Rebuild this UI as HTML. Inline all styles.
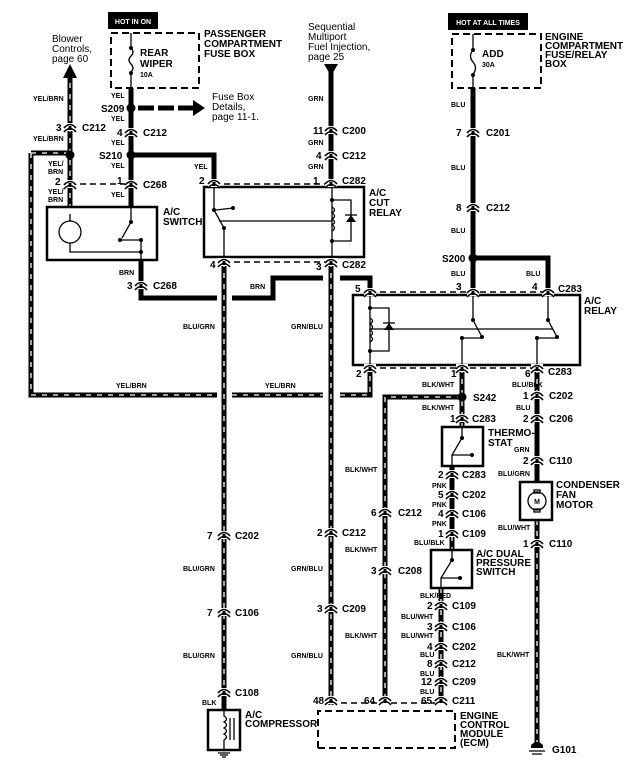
<!DOCTYPE html>
<html><head><meta charset="utf-8"><style>
html,body{margin:0;padding:0;background:#fff;}
svg{display:block;font-family:"Liberation Sans",Arial,sans-serif;font-weight:bold;}
.w{fill:none;stroke:#000;stroke-width:5;stroke-linejoin:miter;}
.s{fill:none;stroke:#fff;stroke-width:1.3;stroke-dasharray:5 6;}
.d{fill:none;stroke:#000;stroke-width:1.5;stroke-dasharray:6 4;}
.t{fill:none;stroke:#000;stroke-width:1.3;}
.b{fill:#fff;stroke:#000;stroke-width:2.5;}
.db{fill:none;stroke:#000;stroke-width:2;stroke-dasharray:7 4;}
.sm{font-size:7px;}
.md{font-size:10px;}
.lg{font-size:10px;}
.n{font-size:10px;font-weight:normal;}
</style></head><body>
<svg width="633" height="768" viewBox="0 0 633 768" xmlns="http://www.w3.org/2000/svg">
<defs>
<g id="c"><rect x="-6" y="-4" width="12" height="8" fill="#fff"/><path d="M-6 1 Q0 -6 6 1 M-6 5 Q0 -2 6 5" fill="none" stroke="#000" stroke-width="1.6"/><rect x="-1.5" y="-1" width="3" height="4" fill="#000"/></g>
</defs>

<path class="d" d="M70 184H131 M214 184H331 M224 262H331 M370 292H548 M370 368H537 M331 703H441"/>

<path class="w" d="M70 72V207"/>
<path class="s" d="M70 72V207"/>
<polygon points="63,78 77,78 70,64"/>
<path class="w" d="M131 88V207"/>
<path class="w" d="M138 108H195" stroke-dasharray="16 4"/>
<polygon points="193,100 205,108 193,116"/>
<path class="w" d="M131 155H214V183"/>
<path class="w" d="M31 153H70 M31 153V395H217 M232 395H323 M340 395H370V372"/>
<path class="s" d="M31 153H70 M31 153V395H217 M232 395H323 M340 395H370V372"/>
<path class="w" d="M141 260V298H217 M232 298H273V278H323 M340 278H370V290"/>
<path class="w" d="M224 262V697"/>
<path class="s" d="M224 262V690"/>
<path class="w" d="M224 690V710"/>
<path class="w" d="M331 72V183"/>
<polygon points="324,64 338,64 331,76"/>
<path class="w" d="M331 262V705"/>
<path class="s" d="M331 262V705"/>
<path class="w" d="M473 88V292 M473 258H548V290"/>
<path class="w" d="M462 368V427 M462 397H385V703"/>
<path class="s" d="M462 368V427 M462 397H385V703"/>
<path class="w" d="M452 466V550"/>
<path class="s" d="M452 536V550"/>
<path class="w" d="M441 588V703"/>
<path class="s" d="M441 588V703"/>
<path class="w" d="M537 368V482 M537 520V745"/>
<path class="s" d="M537 368V392 M537 520V745"/>

<rect x="108" y="12" width="50" height="17" fill="#000"/>
<text x="133" y="24" fill="#fff" font-size="7" text-anchor="middle">HOT IN ON</text>
<rect x="111" y="33" width="88" height="55" class="db" fill="#fff"/>
<path class="t" d="M131 33V48 M131 48q4 4 0 8q-4 4 0 8q4 4 0 8V88"/>
<circle cx="131" cy="48" r="2"/><circle cx="131" cy="73" r="2"/>
<text x="140" y="56" class="lg">REAR</text><text x="140" y="67" class="lg">WIPER</text><text x="140" y="77" class="sm">10A</text>
<text x="204" y="37" class="lg">PASSENGER</text><text x="204" y="47" class="lg">COMPARTMENT</text><text x="204" y="57" class="lg">FUSE BOX</text>

<rect x="448" y="13" width="80" height="17" fill="#000"/>
<text x="488" y="25" fill="#fff" font-size="7" text-anchor="middle">HOT AT ALL TIMES</text>
<rect x="452" y="34" width="89" height="54" class="db" fill="#fff"/>
<path class="t" d="M473 34V50 q-5 6 0 12 q5 6 0 12V88"/>
<circle cx="473" cy="50" r="2"/><circle cx="473" cy="75" r="2"/>
<text x="482" y="57" class="lg">ADD</text><text x="482" y="67" class="sm">30A</text>
<text x="545" y="40" class="lg">ENGINE</text><text x="545" y="49" class="lg">COMPARTMENT</text><text x="545" y="58" class="lg">FUSE/RELAY</text><text x="545" y="67" class="lg">BOX</text>

<text x="52" y="42" class="n">Blower</text><text x="52" y="52" class="n">Controls,</text><text x="52" y="62" class="n">page 60</text>
<text x="212" y="100" class="n">Fuse Box</text><text x="212" y="110" class="n">Details,</text><text x="212" y="120" class="n">page 11-1.</text>
<text x="308" y="30" class="n">Sequential</text><text x="308" y="40" class="n">Multiport</text><text x="308" y="50" class="n">Fuel Injection,</text><text x="308" y="60" class="n">page 25</text>

<rect x="47" y="207" width="110" height="53" class="b"/>
<circle cx="70" cy="232" r="11" class="t" stroke-width="2"/>
<path class="t" d="M70 214V221 M70 243V252H141 M131 207V222L122 238 M120 240H141V260"/>
<circle cx="131" cy="222" r="2"/><circle cx="120" cy="240" r="2"/><circle cx="141" cy="240" r="2"/><circle cx="141" cy="252" r="2"/>
<text x="163" y="215" class="lg">A/C</text><text x="163" y="225" class="lg">SWITCH</text>

<rect x="204" y="187" width="160" height="70" class="b"/>
<path class="t" d="M214 187V210L224 228V257 M216 210L233 208 M219 221H332 M332 187V257 M332 200H351V241H332"/>
<path class="t" d="M332 207q5 3 0 6q5 3 0 6q5 3 0 6q5 3 0 6"/>
<polygon points="346,222 356,222 351,215"/><path class="t" d="M345 215H357"/>
<circle cx="214" cy="210" r="2"/><circle cx="233" cy="208" r="2"/><circle cx="224" cy="228" r="2"/><circle cx="332" cy="200" r="2"/><circle cx="332" cy="241" r="2"/>
<text x="369" y="196" class="lg">A/C</text><text x="369" y="206" class="lg">CUT</text><text x="369" y="216" class="lg">RELAY</text>

<rect x="353" y="295" width="227" height="70" class="b"/>
<path class="t" d="M370 295V365 M370 308H389V351H370 M370 318q5 3 0 6q5 3 0 6q5 3 0 6q5 3 0 6 M370 329H553 M473 295V320L482 337 M462 338V365 M462 338H482 M548 295V320L557 337 M537 338V365 M537 338H557"/>
<polygon points="384,330 394,330 389,323"/><path class="t" d="M383 323H395"/>
<circle cx="370" cy="308" r="2"/><circle cx="370" cy="351" r="2"/><circle cx="473" cy="320" r="2"/><circle cx="482" cy="337" r="2"/><circle cx="462" cy="338" r="2"/><circle cx="548" cy="320" r="2"/><circle cx="557" cy="337" r="2"/><circle cx="537" cy="338" r="2"/>
<text x="584" y="304" class="lg">A/C</text><text x="584" y="314" class="lg">RELAY</text>

<rect x="442" y="427" width="41" height="39" class="b"/>
<path class="t" d="M462 427V438L452 455V466 M452 455H472"/>
<circle cx="462" cy="438" r="2"/><circle cx="472" cy="455" r="2"/>
<text x="488" y="436" class="lg">THERMO-</text><text x="488" y="446" class="lg">STAT</text>

<rect x="431" y="550" width="41" height="38" class="b"/>
<path class="t" d="M452 550V560L441 578V588 M441 578H460"/>
<circle cx="452" cy="560" r="2"/><circle cx="460" cy="578" r="2"/>
<text x="476" y="557" class="lg">A/C DUAL</text><text x="476" y="566" class="lg">PRESSURE</text><text x="476" y="575" class="lg">SWITCH</text>

<rect x="520" y="482" width="32" height="38" class="b"/>
<circle cx="537" cy="501" r="9" class="t"/><text x="537" y="504" font-size="7" text-anchor="middle">M</text>
<rect x="534" y="490" width="6" height="3" class="t"/><rect x="534" y="509" width="6" height="3" class="t"/>
<text x="556" y="488" class="lg">CONDENSER</text><text x="556" y="498" class="lg">FAN</text><text x="556" y="508" class="lg">MOTOR</text>

<rect x="208" y="710" width="32" height="40" class="b"/>
<path class="t" d="M224 710V716q5 3 0 6q5 3 0 6q5 3 0 6q5 3 0 6V750 M230 718V740 M234 718V740"/>
<path class="t" d="M218 753H230 M220 755H228 M222 757H226"/>
<text x="245" y="718" class="lg">A/C</text><text x="245" y="727" class="lg">COMPRESSOR</text>

<path class="db" d="M318 748V711H455V748H318"/>
<text x="460" y="719" class="lg">ENGINE</text><text x="460" y="728" class="lg">CONTROL</text><text x="460" y="737" class="lg">MODULE</text><text x="460" y="746" class="lg">(ECM)</text>

<path d="M531 748h12v-3q-6 -6 -12 0z"/><path class="t" d="M529 751H545 M532 754H542"/>
<text x="552" y="753" class="lg">G101</text>

<circle cx="131" cy="108" r="4.5"/><circle cx="131" cy="155" r="4.5"/><circle cx="70" cy="155" r="4.5"/><circle cx="473" cy="258" r="4.5"/><circle cx="462" cy="397" r="4.5"/>

<use href="#c" x="70" y="127"/><use href="#c" x="131" y="132"/><use href="#c" x="70" y="184"/><use href="#c" x="131" y="184"/>
<use href="#c" x="141" y="285"/><use href="#c" x="214" y="183"/><use href="#c" x="331" y="183"/><use href="#c" x="224" y="262"/>
<use href="#c" x="331" y="262"/><use href="#c" x="331" y="130"/><use href="#c" x="331" y="155"/><use href="#c" x="473" y="132"/>
<use href="#c" x="473" y="207"/><use href="#c" x="370" y="292"/><use href="#c" x="473" y="292"/><use href="#c" x="548" y="292"/>
<use href="#c" x="370" y="368"/><use href="#c" x="462" y="368"/><use href="#c" x="537" y="368"/><use href="#c" x="537" y="395"/>
<use href="#c" x="537" y="418"/><use href="#c" x="537" y="460"/><use href="#c" x="537" y="543"/><use href="#c" x="462" y="418"/>
<use href="#c" x="452" y="474"/><use href="#c" x="452" y="494"/><use href="#c" x="452" y="513"/><use href="#c" x="452" y="533"/>
<use href="#c" x="441" y="605"/><use href="#c" x="441" y="626"/><use href="#c" x="441" y="646"/><use href="#c" x="441" y="663"/>
<use href="#c" x="441" y="681"/><use href="#c" x="441" y="700"/><use href="#c" x="385" y="512"/><use href="#c" x="385" y="570"/>
<use href="#c" x="385" y="700"/><use href="#c" x="331" y="532"/><use href="#c" x="331" y="608"/><use href="#c" x="331" y="700"/>
<use href="#c" x="224" y="535"/><use href="#c" x="224" y="612"/><use href="#c" x="224" y="692"/>

<g class="sm">
<text x="33" y="101">YEL/BRN</text><text x="33" y="141">YEL/BRN</text>
<text x="48" y="166">YEL/</text><text x="48" y="174">BRN</text><text x="48" y="194">YEL/</text><text x="48" y="202">BRN</text>
<text x="111" y="98">YEL</text><text x="111" y="121">YEL</text><text x="111" y="145">YEL</text><text x="111" y="168">YEL</text><text x="111" y="197">YEL</text>
<text x="194" y="169">YEL</text>
<text x="119" y="275">BRN</text><text x="250" y="289">BRN</text>
<text x="183" y="329">BLU/GRN</text><text x="291" y="329">GRN/BLU</text>
<text x="116" y="388">YEL/BRN</text><text x="265" y="388">YEL/BRN</text>
<text x="183" y="571">BLU/GRN</text><text x="291" y="571">GRN/BLU</text>
<text x="183" y="658">BLU/GRN</text><text x="291" y="658">GRN/BLU</text>
<text x="202" y="705">BLK</text>
<text x="308" y="101">GRN</text><text x="308" y="145">GRN</text><text x="308" y="169">GRN</text>
<text x="451" y="107">BLU</text><text x="451" y="170">BLU</text><text x="451" y="233">BLU</text><text x="451" y="276">BLU</text><text x="526" y="276">BLU</text>
<text x="422" y="387">BLK/WHT</text><text x="512" y="387">BLU/BLK</text>
<text x="422" y="410">BLK/WHT</text><text x="516" y="410">BLU</text>
<text x="514" y="452">GRN</text><text x="498" y="476">BLU/GRN</text><text x="498" y="530">BLU/WHT</text>
<text x="345" y="472">BLK/WHT</text><text x="345" y="552">BLK/WHT</text><text x="345" y="638">BLK/WHT</text>
<text x="432" y="488">PNK</text><text x="432" y="507">PNK</text><text x="432" y="526">PNK</text><text x="414" y="545">BLU/BLK</text>
<text x="420" y="598">BLK/RED</text><text x="401" y="619">BLU/WHT</text><text x="401" y="638">BLU/WHT</text>
<text x="420" y="657">BLU</text><text x="420" y="676">BLU</text><text x="420" y="694">BLU</text>
<text x="497" y="657">BLK/WHT</text>
</g>
<g class="md">
<text x="56" y="131">3</text><text x="82" y="131">C212</text>
<text x="101" y="112">S209</text><text x="117" y="136">4</text><text x="143" y="136">C212</text>
<text x="99" y="159">S210</text><text x="55" y="185">2</text><text x="117" y="184">1</text><text x="143" y="188">C268</text>
<text x="127" y="289">3</text><text x="153" y="289">C268</text>
<text x="199" y="184">2</text><text x="313" y="184">1</text><text x="342" y="184">C282</text>
<text x="210" y="268">4</text><text x="316" y="270">3</text><text x="342" y="268">C282</text>
<text x="313" y="134">11</text><text x="342" y="134">C200</text><text x="316" y="159">4</text><text x="342" y="159">C212</text>
<text x="456" y="136">7</text><text x="486" y="136">C201</text><text x="456" y="211">8</text><text x="486" y="211">C212</text>
<text x="442" y="262">S200</text>
<text x="355" y="292">5</text><text x="456" y="290">3</text><text x="532" y="290">4</text><text x="558" y="292">C283</text>
<text x="356" y="377">2</text><text x="451" y="377">1</text><text x="525" y="377">6</text><text x="548" y="375">C283</text>
<text x="473" y="401">S242</text>
<text x="523" y="399">1</text><text x="549" y="399">C202</text><text x="523" y="422">2</text><text x="549" y="422">C206</text>
<text x="523" y="464">2</text><text x="549" y="464">C110</text><text x="523" y="547">1</text><text x="549" y="547">C110</text>
<text x="450" y="422">1</text><text x="472" y="422">C283</text>
<text x="438" y="478">2</text><text x="462" y="478">C283</text><text x="438" y="498">5</text><text x="462" y="498">C202</text>
<text x="438" y="517">4</text><text x="462" y="517">C106</text><text x="438" y="537">1</text><text x="462" y="537">C109</text>
<text x="427" y="609">2</text><text x="452" y="609">C109</text><text x="427" y="630">3</text><text x="452" y="630">C106</text>
<text x="427" y="650">4</text><text x="452" y="650">C202</text><text x="427" y="667">8</text><text x="452" y="667">C212</text>
<text x="421" y="685">12</text><text x="452" y="685">C209</text><text x="421" y="704">65</text><text x="452" y="704">C211</text>
<text x="371" y="516">6</text><text x="398" y="516">C212</text><text x="371" y="574">3</text><text x="398" y="574">C208</text>
<text x="364" y="704">64</text><text x="313" y="704">48</text>
<text x="317" y="536">2</text><text x="342" y="536">C212</text><text x="317" y="612">3</text><text x="342" y="612">C209</text>
<text x="207" y="539">7</text><text x="235" y="539">C202</text><text x="207" y="616">7</text><text x="235" y="616">C106</text>
<text x="235" y="696">C108</text>
</g>
</svg>
</body></html>
